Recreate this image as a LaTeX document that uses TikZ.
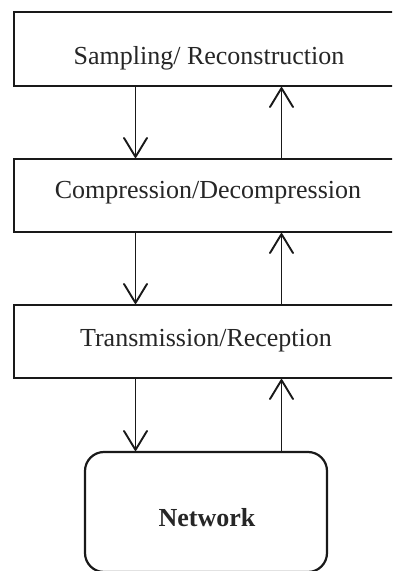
\documentclass[tikz,border=0pt]{standalone}
\usepackage{fontspec}
\setmainfont{Liberation Serif}
\usetikzlibrary{arrows.meta}
\begin{document}
\begin{tikzpicture}[x=1pt,y=1pt,
  layerbox/.style={draw=black!90, line width=2.2pt, minimum width=386pt, minimum height=73pt, inner sep=0pt},
  netbox/.style={draw=black!90, line width=2.2pt, rounded corners=19pt, minimum width=242pt, minimum height=120pt, inner sep=0pt},
  label/.style={anchor=base, inner sep=0pt, font=\fontsize{26}{30}\selectfont, text=black!85},
  flow/.style={draw=black!90, line width=1.9pt, -{Straight Barb[length=19pt, width=23pt, line join=round, line cap=round]}}]
  \useasboundingbox (0,0) rectangle (392,571);
  \clip (0,0) rectangle (392,571);
  \fill[white] (0,0) rectangle (392,571);

  % protocol layers
  \node[layerbox, minimum height=74pt] (samp) at (207,522) {};
  \node[layerbox] (comp) at (207,375.5) {};
  \node[layerbox] (trans) at (207,229.5) {};
  \node[netbox] (net) at (206,59) {};

  \node[label] (tsamp) at (209,506.5) {Sampling/ Reconstruction};
  \node[label] (tcomp) at (208,372) {Compression/Decompression};
  \node[label] (ttrans) at (206,224) {Transmission/Reception};
  \node[label, font=\fontsize{26}{30}\selectfont\bfseries] (tnet) at (207,45) {Network};

  % columns of the downward and upward flows
  \coordinate (dn) at (135.5,0);
  \coordinate (up) at (281.5,0);

  \draw[flow] (samp.south -| dn) -- (comp.north -| dn);
  \draw[flow] (comp.south -| dn) -- (trans.north -| dn);
  \draw[flow] (trans.south -| dn) -- (net.north -| dn);

  \draw[flow] (net.north -| up) -- (trans.south -| up);
  \draw[flow] (trans.north -| up) -- (comp.south -| up);
  \draw[flow] (comp.north -| up) -- (samp.south -| up);
\end{tikzpicture}
\end{document}
